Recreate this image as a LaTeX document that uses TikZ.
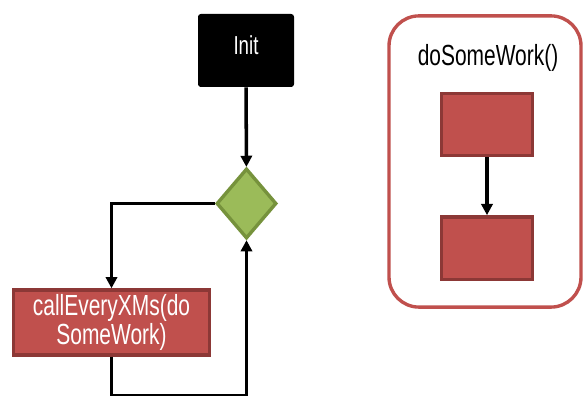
\documentclass[tikz,border=0pt]{standalone}
\usepackage{fontspec}
\newfontfamily\narrowsf{Liberation Sans}[FakeStretch=0.72]
\usetikzlibrary{arrows.meta,positioning,shapes.geometric}
\definecolor{brick}{HTML}{C0504D}
\definecolor{brickdark}{HTML}{8C3836}
\definecolor{leaf}{HTML}{9BBB59}
\definecolor{leafdark}{HTML}{76923C}

\begin{document}
\begin{tikzpicture}[x=1cm,y=1cm,font=\narrowsf\fontsize{20.7}{18}\selectfont,
    >={Triangle[length=2.8mm,width=2.8mm]},
    flow/.style={->,line width=2.5pt,draw=black},
    task/.style={rectangle,fill=brick,draw=brickdark,line width=2.4pt,text=white,align=center}]
  \useasboundingbox[fill=white] (0,0) rectangle (14.6,9.9);

  % main loop
  \node[rectangle,rounded corners=2pt,fill=black,text=white,minimum width=2.4cm,
        minimum height=1.825cm,text depth=2.5mm,font=\narrowsf\fontsize{18.5}{20}\selectfont]
        (init) at (6.15,8.6375) {Init};
  \node[diamond,fill=leaf,draw=leafdark,line width=2.4pt,minimum width=1.5cm,
        minimum height=1.75cm,inner sep=0pt] (check) at (6.1625,4.8125) {};
  \node[task,minimum width=4.9cm,minimum height=1.55cm] (call) at (2.7875,1.8375)
        {callEveryXMs(do\\SomeWork)};
  \draw[flow] (init) -- (check);
  \draw[flow] (check.west) -| (call.north);
  \draw[flow] (call.south) -- ++(0,-0.975) -| (check.south);

  % doSomeWork() panel
  \node[rectangle,rounded corners=0.75cm,draw=brick,line width=2.4pt,minimum width=4.8cm,
        minimum height=7.28cm] (panel) at (12.125,5.8625) {};
  \node[anchor=base] (title) at (12.2,8.25) {doSomeWork()};
  \node[task,minimum width=2.27cm,minimum height=1.55cm] (stepa) at (12.175,6.7875) {};
  \node[task,minimum width=2.27cm,minimum height=1.57cm,below=1.45cm of stepa] (stepb) {};
  \draw[flow] (stepa) -- (stepb);
\end{tikzpicture}
\end{document}
